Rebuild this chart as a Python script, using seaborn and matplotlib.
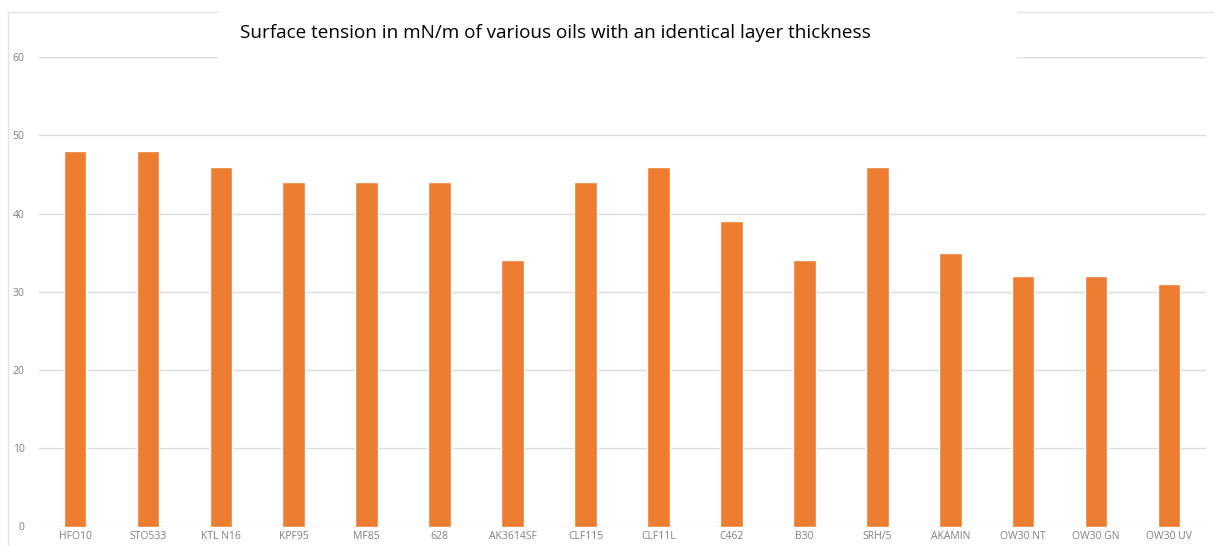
import matplotlib
matplotlib.use("Agg")
import matplotlib.pyplot as plt
from matplotlib.patches import Rectangle
from matplotlib.lines import Line2D
import pandas as pd
import seaborn as sns

oils = ["HFO10", "STO533", "KTL N16", "KPF95", "MF85", "628", "AK3614SF",
        "CLF115", "CLF11L", "C462", "B30", "SRH/5", "AKAMIN",
        "OW30 NT", "OW30 GN", "OW30 UV"]
tension = [48, 48, 46, 44, 44, 44, 34, 44, 46, 39, 34, 46, 35, 32, 32, 31]
y_ticks = [0, 10, 20, 30, 40, 50, 60]
title = "Surface tension in mN/m of various oils with an identical layer thickness"

sns.set_theme(style="white")
plt.rcParams["font.family"] = ["Open Sans", "DejaVu Sans"]

W, H = 1214, 546
fig = plt.figure(figsize=(W / 100, H / 100), dpi=100)
ax = fig.add_axes([38.5 / W, 1 - 526.5 / H, (1205.5 - 38.5) / W, (526.5 - 57) / H])

df = pd.DataFrame({"oil": oils, "tension": tension})
sns.barplot(data=df, x="oil", y="tension", order=oils, color="#ED7D31",
            saturation=1, width=0.31, ax=ax, zorder=3)

ax.set_ylim(0, 60)
ax.set_xlim(-0.5, len(oils) - 0.5)
ax.set_yticks(y_ticks)
ax.set_yticklabels([str(t) for t in y_ticks])
ax.set_xlabel("")
ax.set_ylabel("")
ax.grid(axis="y", color="#dcdcdc", linewidth=1.0, zorder=0)
ax.grid(axis="x", visible=False)
for s in ax.spines.values():
    s.set_visible(False)
ax.tick_params(axis="y", length=0, pad=10, labelsize=7.5, labelcolor="#808080")
ax.tick_params(axis="x", length=0, pad=3, labelsize=7.5, labelcolor="#808080")

# chart-area frame
frame_kw = dict(color="#e4e4e4", linewidth=1.0, transform=fig.transFigure)
fig.add_artist(Line2D([8 / W, 8 / W], [0, 1 - 12 / H], **frame_kw))
fig.add_artist(Line2D([8 / W, 1], [1 - 12 / H, 1 - 12 / H], **frame_kw))

# title panel
fig.add_artist(Rectangle((218 / W, 1 - 61 / H), (1017 - 218) / W, 61 / H,
                         transform=fig.transFigure, facecolor="white",
                         edgecolor="none", zorder=5))
fig.text(240 / W, 1 - 33 / H, title, ha="left", va="center", fontsize=13.6,
         color="#000000", zorder=6)

fig.savefig("out.png", dpi=100, facecolor="white")
